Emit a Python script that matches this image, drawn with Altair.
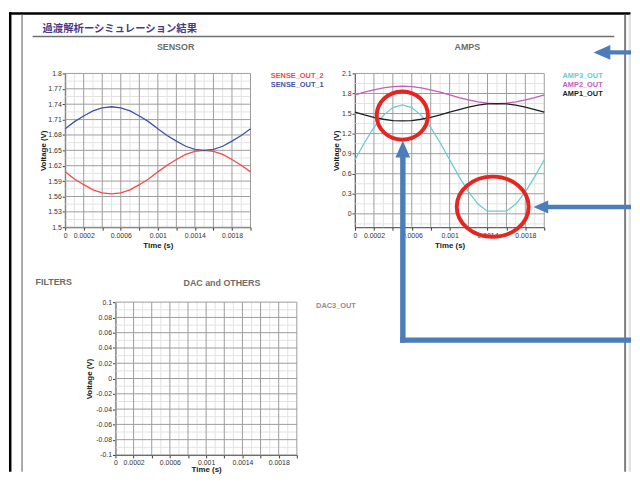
import json
import altair as alt
import pandas as pd

# ---------------- values ----------------
time_s = [0.0, 0.0001, 0.0002, 0.0003, 0.0004, 0.0005, 0.0006, 0.0007, 0.0008, 0.0009, 0.001,
          0.0011, 0.0012, 0.0013, 0.0014, 0.0015, 0.0016, 0.0017, 0.0018, 0.0019, 0.002]
sense_out_1 = [1.692, 1.706, 1.717, 1.727, 1.733, 1.735, 1.733, 1.727, 1.717, 1.706, 1.692,
               1.679, 1.668, 1.658, 1.652, 1.650, 1.652, 1.658, 1.668, 1.679, 1.692]
sense_out_2 = [1.608, 1.594, 1.583, 1.573, 1.567, 1.565, 1.567, 1.573, 1.583, 1.594, 1.608,
               1.621, 1.632, 1.642, 1.648, 1.650, 1.648, 1.642, 1.632, 1.621, 1.608]
amp1_out = [1.52, 1.48, 1.444, 1.415, 1.396, 1.39, 1.396, 1.415, 1.444, 1.48, 1.52,
            1.56, 1.596, 1.625, 1.644, 1.65, 1.644, 1.625, 1.596, 1.56, 1.52]
amp2_out = [1.78, 1.82, 1.856, 1.885, 1.904, 1.91, 1.904, 1.885, 1.856, 1.82, 1.78,
            1.74, 1.704, 1.675, 1.656, 1.65, 1.656, 1.675, 1.704, 1.74, 1.78]
amp3_out = [0.81, 1.063, 1.292, 1.473, 1.59, 1.63, 1.59, 1.473, 1.292, 1.063, 0.81,
            0.557, 0.328, 0.147, 0.04, 0.04, 0.04, 0.147, 0.328, 0.557, 0.81]

sensor_names = ["SENSE_OUT_2", "SENSE_OUT_1"]
sensor_colors = ["#f24a4a", "#4352a6"]
amps_names = ["AMP3_OUT", "AMP2_OUT", "AMP1_OUT"]
amps_colors = ["#6ccad2", "#c45bbd", "#1e1e1e"]
dac_names = ["DAC3_OUT"]
dac_colors = ["#8e8e8e"]

x_ticks = [0.0, 0.0002, 0.0004, 0.0006, 0.0008, 0.001, 0.0012, 0.0014, 0.0016, 0.0018, 0.002]
x_tick_labels = [0.0, 0.0002, 0.0006, 0.001, 0.0014, 0.0018]
x_minor = [0.0001, 0.0003, 0.0005, 0.0007, 0.0009, 0.0011, 0.0013, 0.0015, 0.0017, 0.0019]
sensor_y_ticks = [1.5, 1.53, 1.56, 1.59, 1.62, 1.65, 1.68, 1.71, 1.74, 1.77, 1.8]
sensor_y_minor = [1.515, 1.545, 1.575, 1.605, 1.635, 1.665, 1.695, 1.725, 1.755, 1.785]
amps_y_ticks = [0.0, 0.3, 0.6, 0.9, 1.2, 1.5, 1.8, 2.1]
amps_y_minor = [-0.15, 0.15, 0.45, 0.75, 1.05, 1.35, 1.65, 1.95]
dac_y_ticks = [-0.1, -0.08, -0.06, -0.04, -0.02, 0.0, 0.02, 0.04, 0.06, 0.08, 0.1]
dac_y_minor = [-0.09, -0.07, -0.05, -0.03, -0.01, 0.01, 0.03, 0.05, 0.07, 0.09]

# annotation rings (data coordinates of the AMPS panel)
ring_t = [0.0005, 0.001455]
ring_v = [1.47, 0.107]

page_title = "過渡解析ーシミュレーション結果"

# ---------------- styling ----------------
FONT = "Liberation Sans"
MAJOR = "#9b9b9b"
MINOR = "#e3e3e3"
RING = "#e42520"
ARROW = "#4a7dba"
TITLE_GRAY = "#6b6b6b"
X_LABEL_EXPR = "indexof(" + json.dumps(x_tick_labels) + ", datum.value) >= 0 ? '' + datum.value : ''"

one = pd.DataFrame({"k": [0]})


def long_df(names, series):
    rows = {"t": [], "v": [], "series": []}
    for n, s in zip(names, series):
        rows["t"] += time_s
        rows["v"] += s
        rows["series"] += [n] * len(s)
    return pd.DataFrame(rows)


def color_expr(names, colors):
    expr = "'" + colors[-1] + "'"
    for n, c in reversed(list(zip(names[:-1], colors[:-1]))):
        expr = "datum.value === '" + n + "' ? '" + c + "' : (" + expr + ")"
    return expr


def ellipse(k):
    return "M-1,0A1," + str(k) + " 0 1,0 1,0A1," + str(k) + " 0 1,0 -1,0Z"


def panel(df, names, colors, y_ticks, y_minor, y_domain, width, height, title, title_dx,
          title_offset, legend_x, legend_y, y_title_x, x_title_y, rings=()):
    sx = alt.Scale(domain=[0.0, 0.002], nice=False, zero=False)
    sy = alt.Scale(domain=y_domain, nice=False, zero=False)
    xa = alt.Axis(values=x_ticks, title="Time (s)", grid=False, labelExpr=X_LABEL_EXPR,
                  labelFlush=False, labelOverlap=False, titleY=x_title_y, titleBaseline="middle")
    ya = alt.Axis(values=y_ticks, title="Voltage (V)", grid=False, labelExpr="'' + datum.value",
                  labelOverlap=False, titleX=y_title_x, titleY=height / 2, titleAngle=270,
                  titleBaseline="middle", titleAlign="center")
    vminor = alt.Chart(pd.DataFrame({"t": x_minor})).mark_rule(color=MINOR, strokeWidth=1).encode(
        x=alt.X("t:Q", scale=sx, axis=xa))
    hminor = alt.Chart(pd.DataFrame({"v": y_minor})).mark_rule(color=MINOR, strokeWidth=1).encode(
        y=alt.Y("v:Q", scale=sy, axis=ya))
    vmajor = alt.Chart(pd.DataFrame({"t": x_ticks})).mark_rule(color=MAJOR, strokeWidth=1).encode(
        x=alt.X("t:Q", scale=sx, axis=xa))
    hmajor = alt.Chart(pd.DataFrame({"v": y_ticks})).mark_rule(color=MAJOR, strokeWidth=1).encode(
        y=alt.Y("v:Q", scale=sy, axis=ya))
    lines = alt.Chart(df).mark_line(strokeWidth=1.3).encode(
        x=alt.X("t:Q", scale=sx, axis=xa),
        y=alt.Y("v:Q", scale=sy, axis=ya),
        color=alt.Color("series:N", scale=alt.Scale(domain=names, range=colors),
                        legend=alt.Legend(orient="none", legendX=legend_x, legendY=legend_y,
                                          title=None, symbolSize=0, symbolStrokeWidth=0,
                                          symbolOpacity=0, labelOffset=0, padding=0,
                                          rowPadding=0.3, labelFont=FONT, labelFontSize=7.5,
                                          labelFontWeight="bold",
                                          labelColor=alt.ExprRef(color_expr(names, colors)))),
    )
    layers = [vminor, hminor, vmajor, hmajor, lines]
    for t, v, k, size in rings:
        layers.append(
            alt.Chart(one).mark_point(shape=ellipse(k), size=size, filled=False, color=RING,
                                      strokeWidth=4, opacity=1).encode(
                x=alt.XDatum(t, scale=sx, axis=xa), y=alt.YDatum(v, scale=sy, axis=ya)))
    return alt.layer(*layers).properties(
        width=width, height=height,
        title=alt.TitleParams(text=title, anchor="middle", frame="group", dx=title_dx,
                              offset=title_offset, font=FONT, fontSize=9, fontWeight="bold",
                              color=TITLE_GRAY))


sensor = panel(long_df(sensor_names, [sense_out_2, sense_out_1]), sensor_names, sensor_colors,
               sensor_y_ticks, sensor_y_minor, [1.5, 1.8], 188, 156, "SENSOR", 18, 18,
               201, -1, -21.7, 19)
amps = panel(long_df(amps_names, [amp3_out, amp2_out, amp1_out]), amps_names, amps_colors,
             amps_y_ticks, amps_y_minor, [-0.2, 2.1], 192, 156, "AMPS", 18, 18,
             203, -1, -18.5, 19,
             rings=[(ring_t[0], ring_v[0], 0.94, 2704), (ring_t[1], ring_v[1], 0.836, 5329)])
dac_df = pd.DataFrame({"t": pd.Series([], dtype="float64"),
                       "v": pd.Series([], dtype="float64"),
                       "series": pd.Series([], dtype="object")})
dac = panel(dac_df, dac_names, dac_colors, dac_y_ticks, dac_y_minor, [-0.1, 0.1], 184, 155,
            "DAC and OTHERS", 16, 10, 196, 0, -26.3, 15)

gap = alt.Chart(one).mark_point(opacity=0).properties(width=106, height=156)

# ---------------- page decorations (pixels, relative to the spacer panel) ----------------
OX, OY = 65, 302


def rect(x1, x2, y1, y2, color):
    return alt.Chart(one).mark_rect(color=color).encode(
        x=alt.value(x1 - OX), x2=alt.value(x2 - OX), y=alt.value(y1 - OY), y2=alt.value(y2 - OY))


def head(shape, size, x, y):
    return alt.Chart(one).mark_point(shape=shape, size=size, filled=True, color=ARROW, opacity=1,
                                     strokeWidth=0).encode(x=alt.value(x - OX), y=alt.value(y - OY))


HEAD_LEFT = "M0,0L2,-0.88L2,0.88Z"
HEAD_UP = "M0,0L-0.88,2L0.88,2Z"

decor = [
    rect(8, 638.5, 8, 10.5, "#000000"),
    rect(8, 10.5, 8, 474, "#000000"),
    rect(20.5, 22, 10.5, 474, "#8c8c8c"),
    rect(632, 634, 10.5, 474, "#7d7d7d"),
    rect(636.5, 639, 10.5, 474, "#e2e2e2"),
    rect(32, 622, 31.8, 33.2, "#707070"),
    alt.Chart(one).mark_text(text=page_title, align="left", baseline="middle",
                             font="Noto Sans CJK JP", fontSize=10.5, fontWeight="bold",
                             color="#4a3a86").encode(x=alt.value(42 - OX), y=alt.value(25 - OY)),
    alt.Chart(one).mark_text(text="FILTERS", align="left", baseline="middle", font=FONT,
                             fontSize=9, fontWeight="bold", color=TITLE_GRAY).encode(
        x=alt.value(35 - OX), y=alt.value(282 - OY)),
    # arrow 1
    rect(615, 639, 46.5, 50.8, ARROW),
    head(HEAD_LEFT, 289, 601, 48.7),
    # arrow 2
    rect(553, 639, 203.3, 207.8, ARROW),
    head(HEAD_LEFT, 225, 540, 205.5),
    # arrow 3
    rect(404.8, 410.3, 153, 343.3, ARROW),
    rect(404.8, 639, 337.8, 343.3, ARROW),
    head(HEAD_UP, 289, 407.5, 138.3),
]
spacer = alt.layer(*decor).properties(width=51, height=155)

row1 = alt.hconcat(sensor, gap, amps, spacing=0, bounds="flush").resolve_scale(
    color="independent").resolve_legend(color="independent")
row2 = alt.hconcat(spacer, dac, spacing=0, bounds="flush").resolve_scale(
    color="independent").resolve_legend(color="independent")

chart = alt.vconcat(row1, row2, spacing=232, bounds="flush", padding=0).resolve_scale(
    color="independent").resolve_legend(color="independent").configure_view(
    stroke="transparent").configure_axis(
    domainColor="#3a3a3a", domainWidth=1, tickColor="#3a3a3a", tickSize=3, tickWidth=1,
    labelFont=FONT, labelFontSize=7, labelColor="#333333", labelPadding=1,
    titleFont=FONT, titleFontSize=8, titleFontWeight="bold", titleColor="#1a1a1a",
)

chart.save("out.html", embed_options={"renderer": "svg", "actions": False})
